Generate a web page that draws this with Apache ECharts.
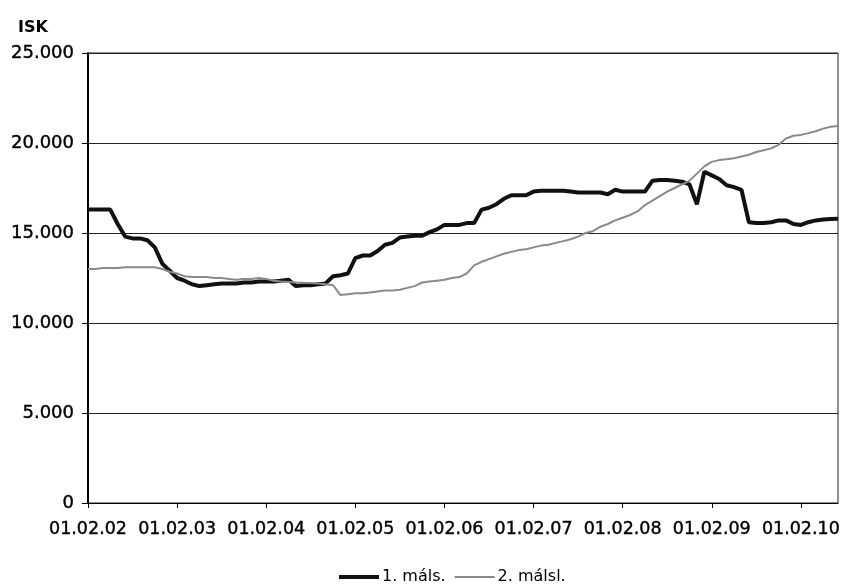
<!DOCTYPE html>
<html>
<head>
<meta charset="utf-8">
<script src="https://cdn.jsdelivr.net/npm/echarts@6/dist/echarts.min.js"></script>
<style>
	html, body { margin: 0; padding: 0; background: #fff; }
	#chart { width: 846px; height: 587px; }
</style>
</head>
<body>
<div id="chart"></div>
<script>
// mánaðarleg gildi, feb 2002 - júl 2010
var startYear = 2002, startMonth = 2, monthCount = 102;
var yTicks = [0, 5000, 10000, 15000, 20000, 25000];
var seriesNames = ['1. máls.', '2. málsl.'];

var mals1 = [
	16300, 16300, 16300, 16300, 15500, 14800, 14700, 14700, 14600, 14200,
	13300, 12900, 12500, 12350, 12150, 12050, 12100, 12150, 12200, 12200,
	12200, 12250, 12250, 12300, 12300, 12300, 12350, 12400, 12050, 12100,
	12100, 12150, 12200, 12600, 12650, 12750, 13600, 13750, 13750, 14000,
	14350, 14450, 14750, 14800, 14850, 14850, 15050, 15200, 15450, 15450,
	15450, 15550, 15550, 16300, 16400, 16600, 16900, 17100, 17100, 17100,
	17300, 17350, 17350, 17350, 17350, 17300, 17250, 17250, 17250, 17250,
	17150, 17400, 17300, 17300, 17300, 17300, 17900, 17950, 17950, 17900,
	17850, 17700, 16600, 18400, 18200, 18000, 17650, 17550, 17400, 15600,
	15550, 15550, 15600, 15700, 15700, 15500, 15450, 15600, 15700, 15750,
	15780, 15790
];
var mals2 = [
	13000, 13000, 13050, 13050, 13050, 13100, 13100, 13100, 13100, 13100,
	13000, 12850, 12750, 12600, 12550, 12550, 12550, 12500, 12500, 12450,
	12400, 12450, 12450, 12500, 12450, 12350, 12300, 12280, 12250, 12230,
	12220, 12200, 12150, 12100, 11550, 11600, 11650, 11650, 11700, 11750,
	11800, 11800, 11850, 11950, 12050, 12250, 12300, 12350, 12400, 12500,
	12550, 12750, 13200, 13400, 13550, 13700, 13850, 13950, 14050, 14100,
	14200, 14300, 14350, 14450, 14550, 14650, 14800, 15000, 15100, 15350,
	15500, 15700, 15850, 16000, 16200, 16550, 16800, 17050, 17300, 17500,
	17700, 17900, 18300, 18700, 18950, 19050, 19100, 19150, 19250, 19350,
	19500, 19600, 19700, 19900, 20250, 20400, 20450, 20550, 20650, 20800,
	20900, 20950
];

var Chart = {
	init: function() {
		this.categories = this.buildCategories();
		this.draw();
	},
	// flokkar: 01.MM.ÁÁ
	buildCategories: function() {
		var list = [];
		for (var i = 0; i < monthCount; i++) {
			var m = startMonth - 1 + i;
			var y = startYear + Math.floor(m / 12);
			var mm = (m % 12) + 1;
			list.push('01.' + (mm < 10 ? '0' + mm : mm) + '.' + String(y).slice(2));
		}
		return list;
	},
	draw: function() {
		var chart = echarts.init(document.getElementById('chart'));
		var font = 'DejaVu Sans';
		var txt = { fontFamily: font, color: '#000', textBorderColor: '#000', textBorderWidth: 0.4 };
		var option = {
			animation: false,
			backgroundColor: '#fff',
			title: {
				text: 'ISK',
				left: 13,
				top: 15,
				textStyle: { fontFamily: font, fontSize: 16, fontWeight: 'bold', color: '#000' }
			},
			legend: {
				data: [
					{ name: seriesNames[0], lineStyle: { width: 4, color: '#111' } },
					{ name: seriesNames[1], lineStyle: { width: 2, color: '#8a8a8a' } }
				],
				left: 332,
				top: 564,
				itemWidth: 40,
				itemHeight: 10,
				itemGap: 8,
				itemStyle: { opacity: 0 },
				textStyle: { fontFamily: font, fontSize: 16, color: '#000', padding: [0, 0, 0, -2] }
			},
			grid: {
				left: 88,
				right: 8,
				top: 53,
				bottom: 84,
				outerBoundsMode: 'none',
				containLabel: false,
				show: true,
				borderColor: '#222',
				borderWidth: 1
			},
			xAxis: {
				type: 'category',
				data: this.categories,
				boundaryGap: false,
				axisLine: { lineStyle: { color: '#000', width: 1 } },
				axisTick: {
					length: 5,
					lineStyle: { color: '#000' },
					interval: function(i) { return i % 12 === 0; }
				},
				axisLabel: Object.assign({
					interval: function(i) { return i % 12 === 0; },
					fontSize: 17.5,
					margin: 17,
					hideOverlap: false
				}, txt),
				splitLine: { show: false }
			},
			yAxis: {
				type: 'value',
				min: yTicks[0],
				max: yTicks[yTicks.length - 1],
				interval: 5000,
				axisLine: { show: true, lineStyle: { color: '#000', width: 2 } },
				axisTick: { show: true, length: 6, lineStyle: { color: '#000' } },
				axisLabel: Object.assign({
					fontSize: 18,
					margin: 14,
					formatter: function(v) { return v === 0 ? '0' : (v / 1000) + '.000'; }
				}, txt),
				splitLine: { lineStyle: { color: '#222', width: 1 } }
			},
			series: [{
				name: seriesNames[0],
				type: 'line',
				data: mals1,
				symbol: 'none',
				color: '#111',
				lineStyle: { color: '#111', width: 4 }
			}, {
				name: seriesNames[1],
				type: 'line',
				data: mals2,
				symbol: 'none',
				color: '#8a8a8a',
				lineStyle: { color: '#8a8a8a', width: 2 }
			}]
		};
		chart.setOption(option);
	}
};

Chart.init();
</script>
</body>
</html>
